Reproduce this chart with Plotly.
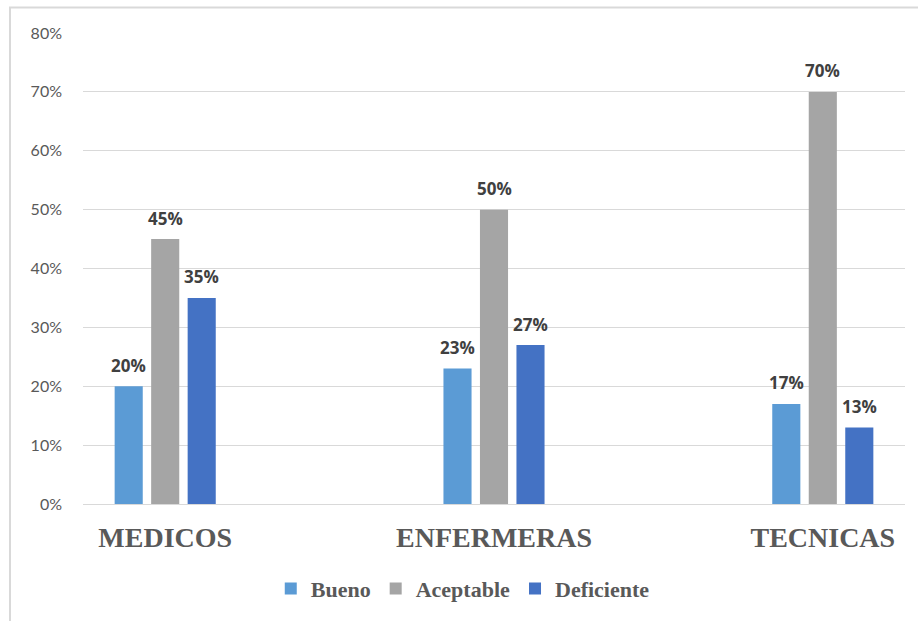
import plotly.graph_objects as go

# Survey results by staff group
categories = ["MEDICOS", "ENFERMERAS", "TECNICAS"]
bueno = [20, 23, 17]
aceptable = [45, 50, 70]
deficiente = [35, 27, 13]

y_ticks = [0, 10, 20, 30, 40, 50, 60, 70, 80]
y_tick_labels = [f"{v}%" for v in y_ticks]

series = [
    ("Bueno", bueno, "#5B9BD5"),
    ("Aceptable", aceptable, "#A5A5A5"),
    ("Deficiente", deficiente, "#4472C4"),
]

W, H = 918, 621
L, R, T, B = 83, 13, 33, 117
BARGAP = 0.667

fig = go.Figure()
for name, vals, color in series:
    fig.add_trace(go.Bar(
        name=name,
        x=categories,
        y=vals,
        marker=dict(color=color, line=dict(width=0)),
    ))

# value labels above each bar
slot = (1 - BARGAP) / len(series)
annotations = []
for j, (name, vals, color) in enumerate(series):
    for i, v in enumerate(vals):
        annotations.append(dict(
            x=i + (j - (len(series) - 1) / 2) * slot,
            y=v,
            xref="x", yref="y",
            text=f"{v}%",
            showarrow=False,
            yanchor="middle",
            yshift=21,
            font=dict(family="Open Sans, Lato, sans-serif", size=17, color="#404040", weight="bold"),
        ))

plot_w = W - L - R
plot_h = H - T - B

fig.update_layout(
    width=W,
    height=H,
    margin=dict(l=L, r=R, t=T, b=B, autoexpand=False),
    paper_bgcolor="white",
    plot_bgcolor="white",
    barmode="group",
    bargap=BARGAP,
    bargroupgap=0.23,
    showlegend=True,
    legend=dict(
        orientation="h",
        x=0.462,
        xanchor="center",
        y=-0.135,
        yanchor="top",
        font=dict(family="Liberation Serif, Times New Roman, serif", size=22, color="#595959", weight="bold"),
        itemwidth=30,
        tracegroupgap=0,
    ),
    xaxis=dict(
        type="category",
        range=[-0.25, 2.25],
        automargin=False,
        showgrid=False,
        showline=False,
        zeroline=False,
        ticks="",
        ticklabelstandoff=14,
        tickfont=dict(family="Liberation Serif, Times New Roman, serif", size=28, color="#595959", weight="bold"),
        fixedrange=True,
    ),
    yaxis=dict(
        range=[0, 80],
        automargin=False,
        tickvals=y_ticks,
        ticktext=y_tick_labels,
        showgrid=True,
        gridcolor="#D9D9D9",
        gridwidth=1,
        zeroline=True,
        zerolinecolor="#D9D9D9",
        zerolinewidth=1,
        showline=False,
        ticks="",
        ticklabelstandoff=20,
        tickfont=dict(family="Lato, Open Sans, sans-serif", size=16, color="#595959"),
        fixedrange=True,
    ),
    annotations=annotations,
    shapes=[
        # chart-area border (left and top edges)
        dict(
            type="rect",
            xref="paper", yref="paper",
            x0=(10 - L) / plot_w, x1=(W + 5 - L) / plot_w,
            y0=-(H + 5 - T - plot_h) / plot_h, y1=1 + (T - 7.5) / plot_h,
            line=dict(color="#D9D9D9", width=2),
            fillcolor="rgba(0,0,0,0)",
            layer="below",
        )
    ],
)

fig.write_html("out.html")
